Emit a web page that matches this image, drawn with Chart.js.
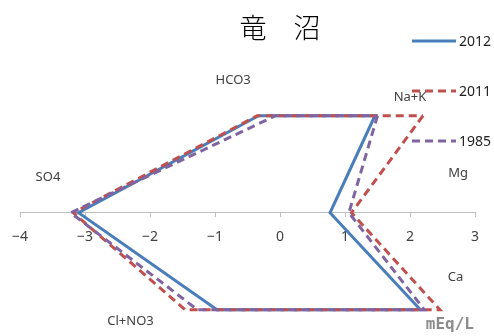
<!DOCTYPE html>
<html>
<head>
<meta charset="utf-8">
<script src="https://cdn.jsdelivr.net/npm/chart.js@4"></script>
<style>
    html, body { margin: 0; padding: 0; background: #fff; }
    #wrap { width: 494px; height: 336px; }
</style>
</head>
<body>
<div id="wrap"><canvas id="stiffChart"></canvas></div>
<script>
// Stiff diagram: anions on the left (negative), cations on the right
const years = ['2012', '2011', '1985'];
const anionNames = ['HCO3', 'SO4', 'Cl+NO3'];
const cationNames = ['Na+K', 'Mg', 'Ca'];
const rowLevels = [1, 0, -1];

// meq/L (anions shown as negative x)
const anions2012 = [-0.33, -3.10, -0.97];
const cations2012 = [1.46, 0.77, 2.16];
const anions2011 = [-0.35, -3.18, -1.46];
const cations2011 = [2.20, 1.10, 2.46];
const anions1985 = [-0.07, -3.22, -1.27];
const cations1985 = [1.50, 1.06, 2.22];

const xTicks = [-4, -3, -2, -1, 0, 1, 2, 3];

function polygon(anions, cations) {
    const pts = [];
    // down the cation side, back up the anion side, close at the top
    for (let i = 0; i < 3; i++) pts.push({ x: cations[i], y: rowLevels[i] });
    for (let i = 2; i >= 0; i--) pts.push({ x: anions[i], y: rowLevels[i] });
    pts.push({ x: cations[0], y: rowLevels[0] });
    return pts;
}

// where the ion names sit, in data units
const ionLabels = [
    { text: 'HCO3', x: -0.72, y: 1.37 },
    { text: 'Na+K', x: 2.0, y: 1.19 },
    { text: 'SO4', x: -3.57, y: 0.37 },
    { text: 'Mg', x: 2.74, y: 0.41 },
    { text: 'Cl+NO3', x: -2.3, y: -1.12 },
    { text: 'Ca', x: 2.7, y: -0.67 }
];

const extrasPlugin = {
    id: 'extras',
    afterDraw(chart) {
        const ctx = chart.ctx;
        const xs = chart.scales.x;
        const ys = chart.scales.y;
        ctx.save();

        // title
        ctx.fillStyle = '#000';
        ctx.font = '300 27px "Noto Sans CJK JP"';
        ctx.textAlign = 'center';
        ctx.textBaseline = 'middle';
        ctx.fillText('竜　沼', 280, 28);

        // ion labels
        ctx.fillStyle = '#404040';
        ctx.font = '13px "Noto Sans", sans-serif';
        ionLabels.forEach(l => {
            ctx.fillText(l.text, xs.getPixelForValue(l.x), ys.getPixelForValue(l.y));
        });

        // unit
        ctx.fillStyle = '#8c8c8c';
        ctx.font = 'bold 16px "DejaVu Sans Mono", monospace';
        ctx.textAlign = 'right';
        ctx.fillText('mEq/L', 474, 325);

        // legend
        ctx.textAlign = 'left';
        ctx.font = '14px "Noto Sans", sans-serif';
        chart.data.datasets.forEach((ds, i) => {
            const y = 41 + i * 50;
            ctx.strokeStyle = ds.borderColor;
            ctx.lineWidth = ds.borderWidth;
            ctx.setLineDash(ds.borderDash || []);
            ctx.beginPath();
            ctx.moveTo(412, y);
            ctx.lineTo(456, y);
            ctx.stroke();
            ctx.setLineDash([]);
            ctx.fillStyle = '#222';
            ctx.fillText(ds.label, 459, y + 1);
        });
        ctx.restore();
    }
};

new Chart(document.getElementById('stiffChart'), {
    type: 'scatter',
    data: {
        datasets: [
            {
                label: years[0],
                data: polygon(anions2012, cations2012),
                borderColor: '#4a7ebb',
                borderWidth: 3,
                order: 2
            },
            {
                label: years[1],
                data: polygon(anions2011, cations2011),
                borderColor: '#c0504d',
                borderWidth: 3,
                borderDash: [8, 5],
                order: 1
            },
            {
                label: years[2],
                data: polygon(anions1985, cations1985),
                borderColor: '#8064a2',
                borderWidth: 3,
                borderDash: [8, 5],
                order: 0
            }
        ]
    },
    options: {
        responsive: true,
        maintainAspectRatio: false,
        animation: false,
        showLine: true,
        elements: {
            point: { radius: 0, hoverRadius: 0 },
            line: { tension: 0, borderJoinStyle: 'miter' }
        },
        layout: {
            padding: { left: 19, right: 19, top: 43, bottom: 2 }
        },
        plugins: {
            legend: { display: false },
            tooltip: { enabled: false },
            title: { display: false }
        },
        scales: {
            x: {
                type: 'linear',
                position: { y: 0 },
                min: -4,
                max: 3,
                afterBuildTicks: axis => {
                    axis.ticks = xTicks.map(v => ({ value: v }));
                },
                grid: {
                    drawOnChartArea: false,
                    color: '#bfbfbf',
                    tickLength: 4
                },
                border: { color: '#bfbfbf', width: 1 },
                ticks: {
                    color: '#404040',
                    font: { size: 14, family: '"Noto Sans", sans-serif' },
                    padding: 12,
                    maxRotation: 0,
                    callback: v => (v < 0 ? '\u2212' + Math.abs(v) : String(v))
                }
            },
            y: {
                type: 'linear',
                display: false,
                min: -1.25,
                max: 1.75
            }
        }
    },
    plugins: [extrasPlugin]
});
</script>
</body>
</html>
